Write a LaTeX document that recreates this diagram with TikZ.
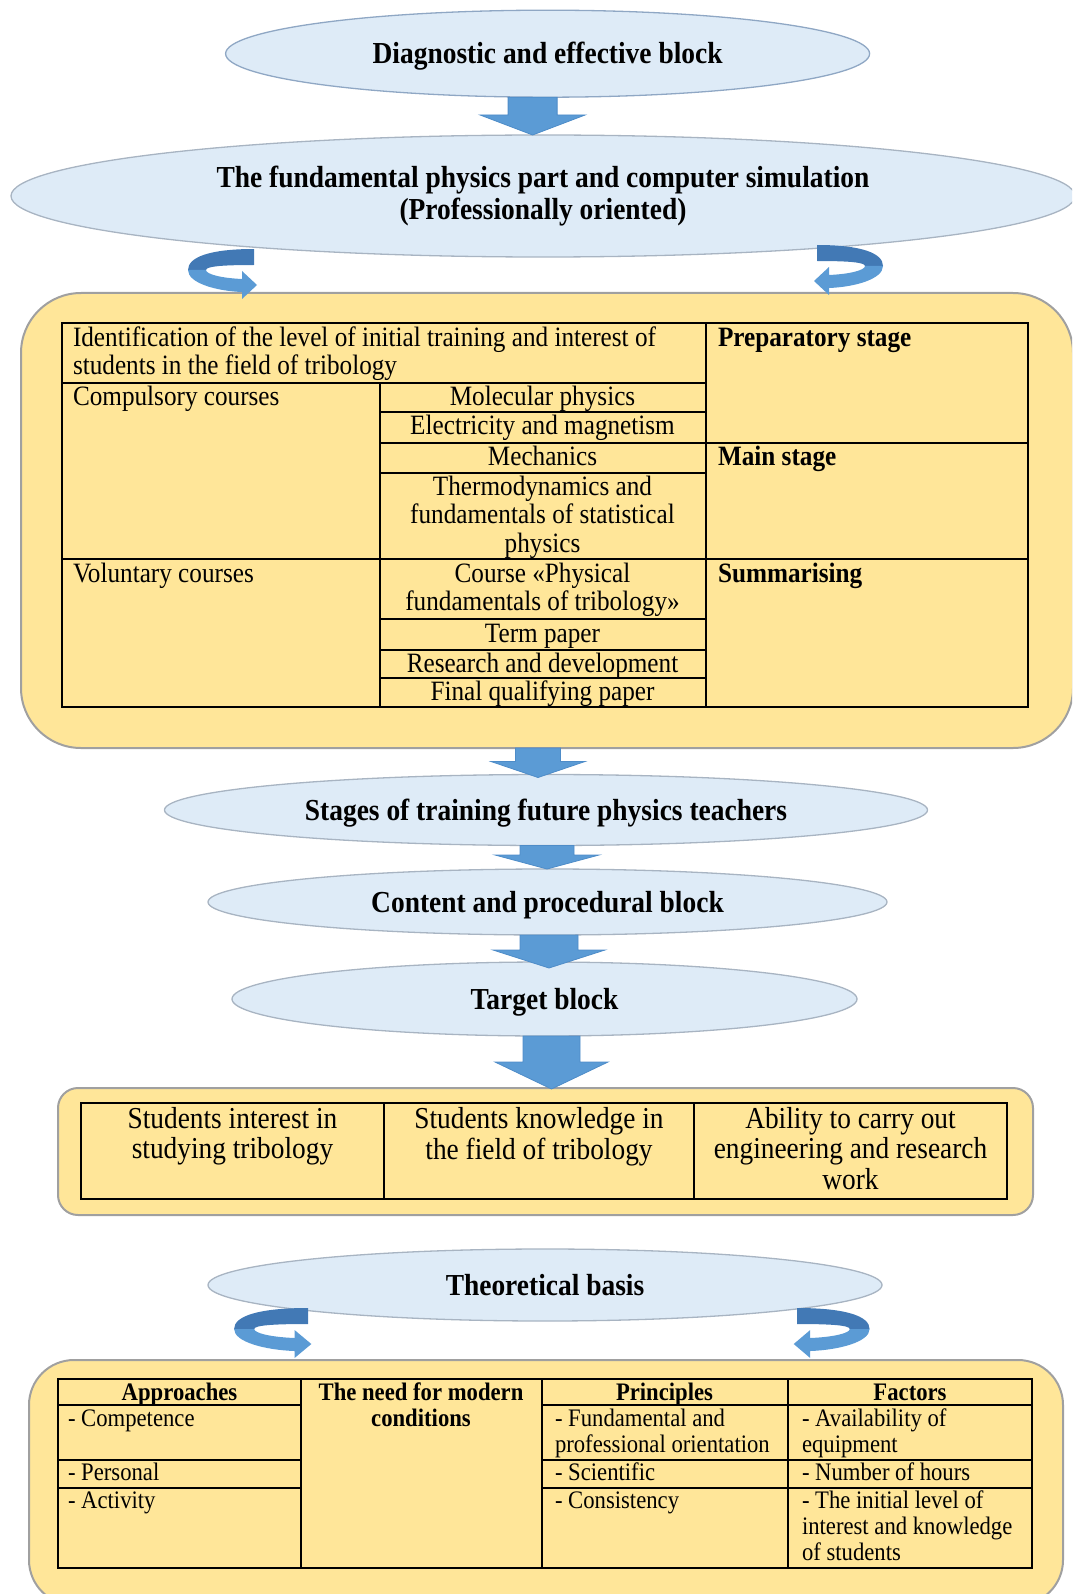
\documentclass[tikz,border=0pt]{standalone}
\usepackage{fontspec}
\setmainfont{Liberation Serif}[FakeStretch=0.9]
\usetikzlibrary{shapes.geometric,calc}
\definecolor{ellfill}{HTML}{DEEBF7}
\definecolor{ellline}{HTML}{A8B4C2}
\definecolor{ellblue}{HTML}{8FA7C4}
\definecolor{yel}{HTML}{FFE699}
\definecolor{yelline}{HTML}{A0A0A0}
\definecolor{arrfill}{HTML}{5B9BD5}
\definecolor{arrline}{HTML}{4E8CC8}
\definecolor{arrdark}{HTML}{4279B5}
\newcommand\fEll{\fontsize{30.5}{32}\selectfont\bfseries}
\newcommand\fTa{\fontsize{28}{28.5}\selectfont}
\newcommand\fTb{\fontsize{30.4}{30.5}\selectfont}
\newcommand\fTc{\fontsize{25.2}{26}\selectfont}
\newcommand\blockarr[6]{%
  \path[blockarrow] let \p1=(#1), \p2=(#2) in
   (\x1-#3pt,\y1) -- (\x1+#3pt,\y1) -- (\x1+#3pt,\y2+#5pt) -- (\x1+#4pt,\y2+#5pt)
   -- (\x1,\y2-#6pt) -- (\x1-#4pt,\y2+#5pt) -- (\x1-#3pt,\y2+#5pt) -- cycle;}
\newcommand\curvarr[2]{%
  \begin{scope}[shift={#1},#2]
   \fill[arrdark] (0,0) .. controls (-44,0) and (-66,8) .. (-66,21) -- (-48,21)
      .. controls (-48,17) and (-28,16) .. (0,16) -- cycle;
   \fill[arrfill] (-66,21) .. controls (-66,34) and (-38,42) .. (-12,43) -- (-12,50)
      -- (3,36) -- (-12,22) -- (-12,30) .. controls (-34,29) and (-48,25) .. (-48,21) -- cycle;
  \end{scope}}
\begin{document}
\begin{tikzpicture}[x=1pt,y=-1pt,
  ell/.style={ellipse, fill=ellfill, draw=ellline, line width=1.3pt, inner sep=0pt, outer sep=0pt, font=\fEll},
  ell1/.style={ell, text height=20.2pt, text depth=0pt},
  ybox/.style={rectangle, fill=yel, draw=yelline, line width=2pt, inner sep=0pt, outer sep=0pt},
  tbl/.style={line width=2pt, black},
  txt/.style={inner sep=0pt, outer sep=0pt},
  blockarrow/.style={fill=arrfill, draw=arrline, line width=0.8pt}]
\useasboundingbox (0,0) rectangle (1072,1594);
\clip (0,0) rectangle (1072,1594);

% ellipses
\node[ell1, draw=ellblue, minimum width=644pt, minimum height=87pt] (E1) at (547.6,53.7) {Diagnostic and effective block};
\node[ell, align=center, minimum width=1064pt, minimum height=122pt] (E2) at (543,196) {The fundamental physics part and computer simulation\\(Professionally oriented)};
\node[ell1, minimum width=763pt, minimum height=71pt] (E3) at (546,810) {Stages of training future physics teachers};
\node[ell1, minimum width=679pt, minimum height=66pt] (E4) at (547.5,902) {Content and procedural block};
\node[ell1, minimum width=625pt, minimum height=74pt] (E5) at (544.5,999) {Target block};
\node[ell1, minimum width=674pt, minimum height=72pt] (E6) at (545,1285) {Theoretical basis};

% yellow boxes
\node[ybox, rounded corners=60pt, minimum width=1052pt, minimum height=455pt] (B1) at (547,520.5) {};
\node[ybox, rounded corners=20pt, minimum width=975pt, minimum height=127pt] (B2) at (545.5,1151.5) {};
\node[ybox, rounded corners=45pt, minimum width=1034pt, minimum height=245pt] (B3) at (546,1482.5) {};

% table 1
\draw[tbl] (61.5,323.3) rectangle (1027.5,706.7);
\draw[tbl] (705.5,323.3) -- (705.5,706.7);
\draw[tbl] (379.5,383.3) -- (379.5,706.7);
\draw[tbl] (61.5,383.3) -- (705.5,383.3);
\draw[tbl] (379.5,411.7) -- (705.5,411.7);
\draw[tbl] (379.5,443.3) -- (1027.5,443.3);
\draw[tbl] (379.5,473.3) -- (705.5,473.3);
\draw[tbl] (61.5,559.3) -- (1027.5,559.3);
\draw[tbl] (379.5,619.3) -- (705.5,619.3);
\draw[tbl] (379.5,650) -- (705.5,650);
\draw[tbl] (379.5,678.3) -- (705.5,678.3);

\node[txt, anchor=north west, align=left, font=\fTa] (t1id) at (73,326.05) {\strut Identification of the level of initial training and interest of\\students in the field of tribology};
\node[txt, anchor=base west, font=\fTa\bfseries] (t1prep) at (718,346) {Preparatory stage};
\node[txt, anchor=base west, font=\fTa] (t1comp) at (73,405) {Compulsory courses};
\node[txt, anchor=base, font=\fTa] (t1mol) at (542.5,405) {Molecular physics};
\node[txt, anchor=base, font=\fTa] (t1el) at (542.5,434) {Electricity and magnetism};
\node[txt, anchor=base, font=\fTa] (t1mech) at (542.5,465) {Mechanics};
\node[txt, anchor=base west, font=\fTa\bfseries] (t1main) at (718,465) {Main stage};
\node[txt, anchor=north, align=center, font=\fTa] (t1th) at (542.5,475.05) {\strut Thermodynamics and\\fundamentals of statistical\\physics};
\node[txt, anchor=base west, font=\fTa] (t1vol) at (73,582) {Voluntary courses};
\node[txt, anchor=north, align=center, font=\fTa] (t1course) at (542.5,562.05) {\strut Course «Physical\\fundamentals of tribology»};
\node[txt, anchor=base west, font=\fTa\bfseries] (t1sum) at (718,582) {Summarising};
\node[txt, anchor=base, font=\fTa] (t1term) at (542.5,642) {Term paper};
\node[txt, anchor=base, font=\fTa] (t1rd) at (542.5,672) {Research and development};
\node[txt, anchor=base, font=\fTa] (t1fin) at (542.5,700) {Final qualifying paper};

% table 2
\draw[tbl] (81,1103) rectangle (1007,1199);
\draw[tbl] (384,1103) -- (384,1199);
\draw[tbl] (694,1103) -- (694,1199);
\node[txt, anchor=north, align=center, font=\fTb] (t2a) at (232.5,1106.65) {\strut Students interest in\\studying tribology};
\node[txt, anchor=north, align=center, font=\fTb] (t2b) at (539,1106.65) {\strut Students knowledge in\\the field of tribology};
\node[txt, anchor=north, align=center, font=\fTb] (t2c) at (850.5,1106.65) {\strut Ability to carry out\\engineering and research\\work};

% table 3
\draw[tbl] (58,1379) rectangle (1032,1568);
\draw[tbl] (301,1379) -- (301,1568);
\draw[tbl] (541.5,1379) -- (541.5,1568);
\draw[tbl] (787.6,1379) -- (787.6,1568);
\foreach \yy in {1405,1460,1488}{
  \draw[tbl] (58,\yy) -- (301,\yy);
  \draw[tbl] (541.5,\yy) -- (1032,\yy);
}
\node[txt, anchor=base, font=\fTc\bfseries] (t3h1) at (179.5,1400) {Approaches};
\node[txt, anchor=north, align=center, font=\fTc\bfseries] (t3h2) at (421,1381.8) {\strut The need for modern\\conditions};
\node[txt, anchor=base, font=\fTc\bfseries] (t3h3) at (664.5,1400) {Principles};
\node[txt, anchor=base, font=\fTc\bfseries] (t3h4) at (910,1400) {Factors};
\node[txt, anchor=base west, font=\fTc] (t3a1) at (68,1426) {- Competence};
\node[txt, anchor=base west, font=\fTc] (t3a2) at (68,1480) {- Personal};
\node[txt, anchor=base west, font=\fTc] (t3a3) at (68,1508) {- Activity};
\node[txt, anchor=north west, align=left, font=\fTc] (t3p1) at (555,1407.8) {\strut - Fundamental and\\professional orientation};
\node[txt, anchor=base west, font=\fTc] (t3p2) at (555,1480) {- Scientific};
\node[txt, anchor=base west, font=\fTc] (t3p3) at (555,1508) {- Consistency};
\node[txt, anchor=north west, align=left, font=\fTc] (t3f1) at (802,1407.8) {\strut - Availability of\\equipment};
\node[txt, anchor=base west, font=\fTc] (t3f2) at (802,1480) {- Number of hours};
\node[txt, anchor=north west, align=left, font=\fTc] (t3f3) at (802,1489.8) {\strut - The initial level of\\interest and knowledge\\of students};

% curved arrows
\curvarr{($(E2.south)+(-289,-8)$)}{}
\curvarr{($(E2.south)+(274,-12)$)}{xscale=-1}
\curvarr{($(E6.south)+(-237,-13)$)}{xscale=1.12}
\curvarr{($(E6.south)+(252,-13)$)}{xscale=-1.1}

% block arrows
\blockarr{[xshift=-15pt]E1.south}{E2.north}{24.5}{52.5}{20}{0}
\blockarr{[xshift=-9pt]B1.south}{E3.north}{22.5}{47}{13}{3}
\blockarr{[xshift=1pt]E3.south}{E4.north}{27}{52}{14}{0}
\blockarr{[xshift=1.5pt]E4.south}{E5.north}{29}{56}{12}{6}
\blockarr{[xshift=7pt]E5.south}{B2.north}{28.5}{56.5}{26}{1}
\end{tikzpicture}
\end{document}
